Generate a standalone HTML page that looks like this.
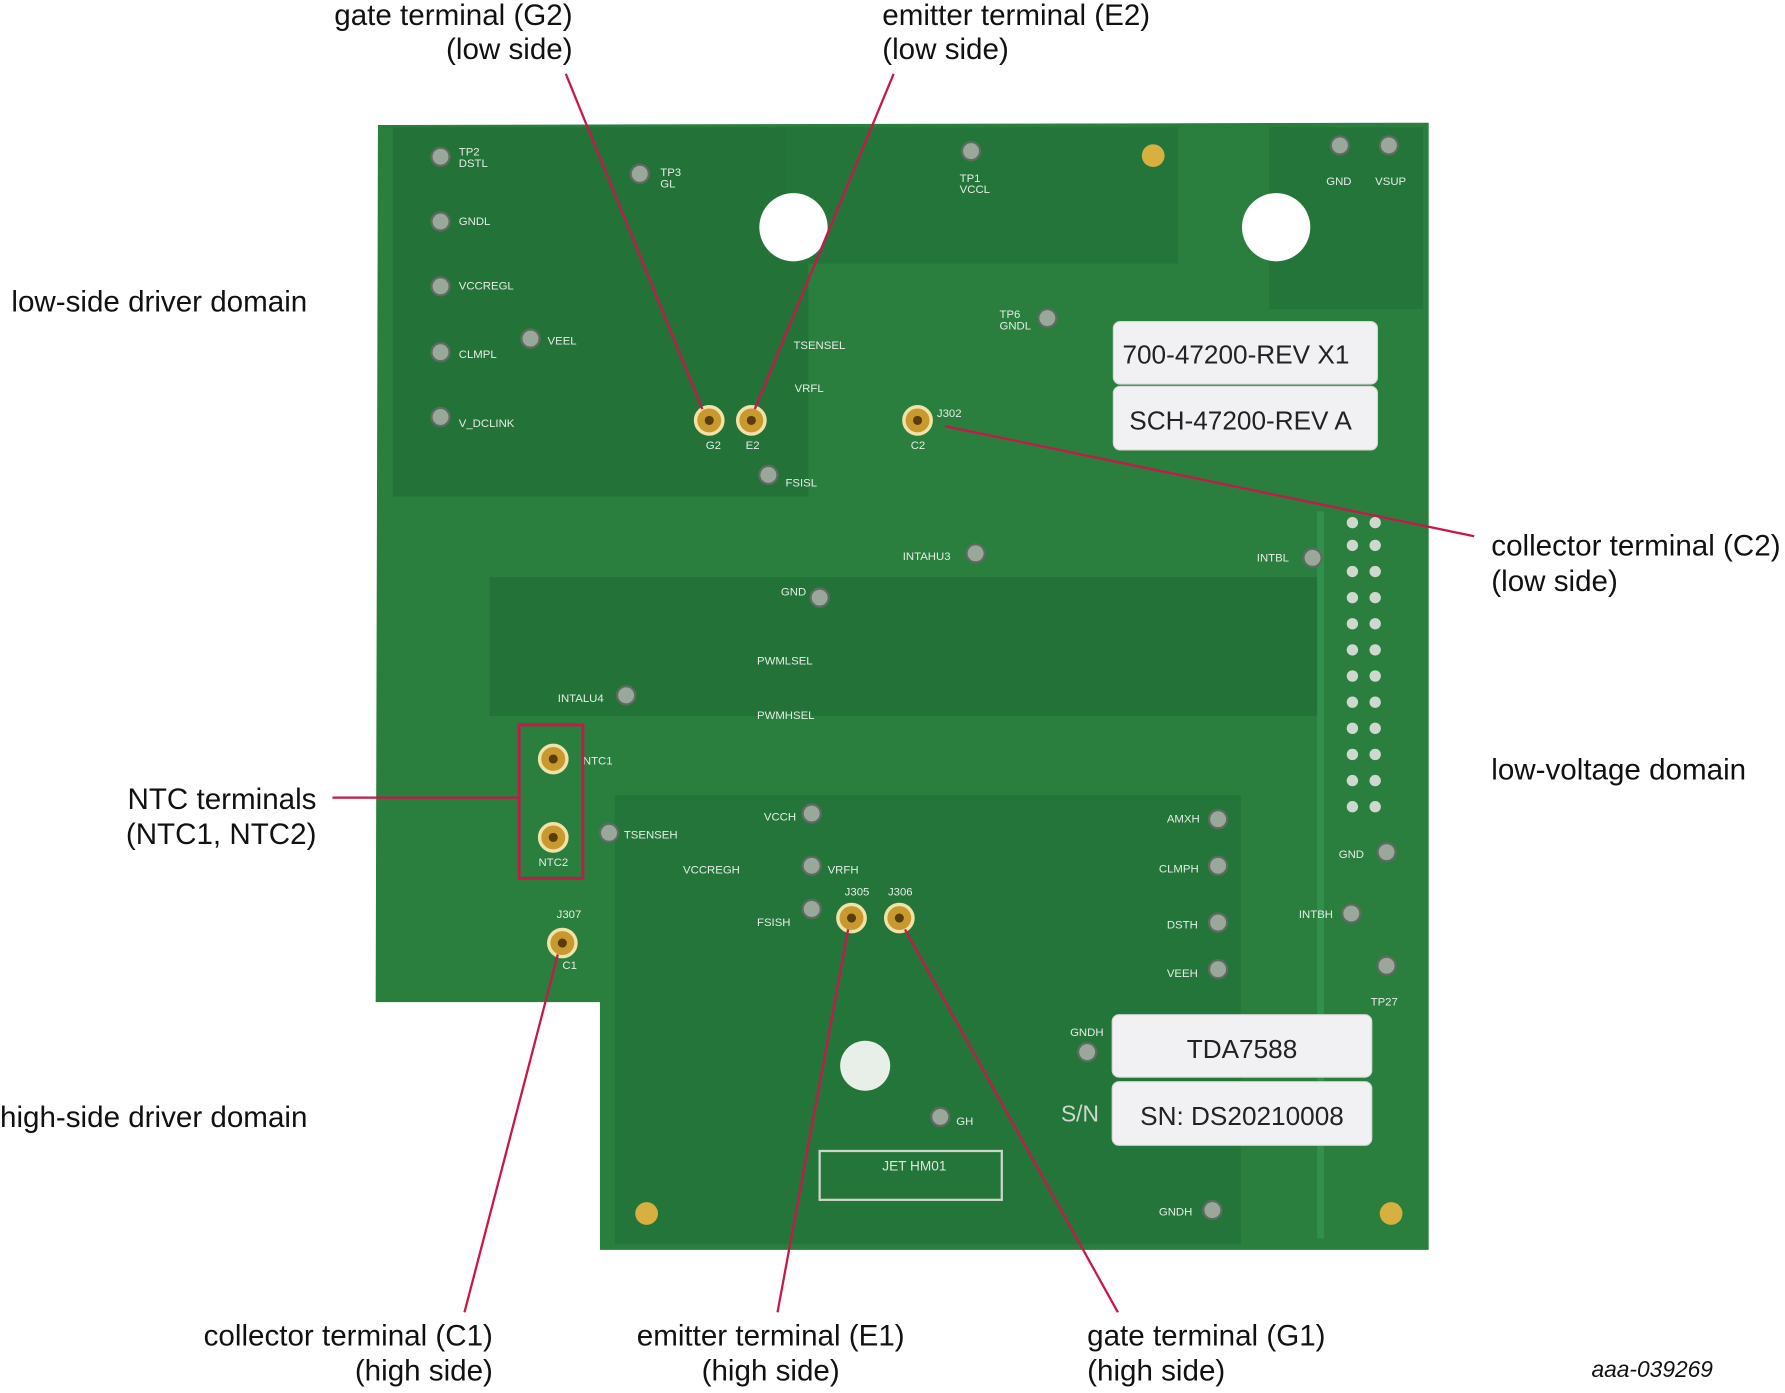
<!DOCTYPE html>
<html><head><meta charset="utf-8"><style>
html,body{margin:0;padding:0;background:#fff;}
svg{display:block;}
text{font-family:"Liberation Sans",sans-serif;}
</style></head><body>
<svg width="1785" height="1393" viewBox="0 0 1568 1226" preserveAspectRatio="none" xmlns="http://www.w3.org/2000/svg">
<rect width="1568" height="1226" fill="#fff"/>
<path d="M332,110 L1255,108 L1255,1100 L527,1100 L527,882 L330,882 Z" fill="#2a7e3e"/>
<rect x="345" y="112" width="365" height="325" fill="#237238"/>
<rect x="430" y="508" width="730" height="122" fill="#237238"/>
<rect x="540" y="700" width="550" height="395" fill="#24753a"/>
<rect x="1115" y="112" width="135" height="160" fill="#24753a"/>
<rect x="690" y="112" width="345" height="120" fill="#24753a"/>
<path d="M1160,450 L1160,1090" stroke="#31904b" stroke-width="6" fill="none"/>
<circle cx="697" cy="200" r="30" fill="#fff"/>
<circle cx="1121" cy="200" r="30" fill="#fff"/>
<circle cx="760" cy="938" r="22" fill="#e8efe8"/>
<circle cx="1013" cy="137" r="10" fill="#d7b040"/>
<circle cx="568" cy="1068" r="10" fill="#d7b040"/>
<circle cx="1222" cy="1068" r="10" fill="#d7b040"/>
<g fill="#9aa89c" stroke="#5d6b60" stroke-width="2">
<circle cx="387" cy="138" r="8"/><circle cx="387" cy="195" r="8"/><circle cx="387" cy="252" r="8"/><circle cx="387" cy="310" r="8"/><circle cx="387" cy="367" r="8"/>
<circle cx="562" cy="153" r="8"/><circle cx="466" cy="298" r="8"/><circle cx="853" cy="133" r="8"/><circle cx="920" cy="280" r="8"/>
<circle cx="1177" cy="128" r="8"/><circle cx="1220" cy="128" r="8"/><circle cx="675" cy="418" r="8"/><circle cx="720" cy="526" r="8"/>
<circle cx="857" cy="487" r="8"/><circle cx="1153" cy="491" r="8"/><circle cx="550" cy="612" r="8"/><circle cx="713" cy="716" r="8"/>
<circle cx="535" cy="733" r="8"/><circle cx="713" cy="762" r="8"/><circle cx="713" cy="800" r="8"/><circle cx="1070" cy="721" r="8"/>
<circle cx="1070" cy="762" r="8"/><circle cx="1070" cy="812" r="8"/><circle cx="1070" cy="853" r="8"/><circle cx="1218" cy="750" r="8"/>
<circle cx="1187" cy="804" r="8"/><circle cx="1218" cy="850" r="8"/><circle cx="955" cy="926" r="8"/><circle cx="826" cy="983" r="8"/><circle cx="1065" cy="1065" r="8"/>
</g>
<g fill="#cfd8cf">
<circle cx="1188" cy="460" r="5"/><circle cx="1208" cy="460" r="5"/><circle cx="1188" cy="480" r="5"/><circle cx="1208" cy="480" r="5"/>
<circle cx="1188" cy="503" r="5"/><circle cx="1208" cy="503" r="5"/><circle cx="1188" cy="526" r="5"/><circle cx="1208" cy="526" r="5"/>
<circle cx="1188" cy="549" r="5"/><circle cx="1208" cy="549" r="5"/><circle cx="1188" cy="572" r="5"/><circle cx="1208" cy="572" r="5"/>
<circle cx="1188" cy="595" r="5"/><circle cx="1208" cy="595" r="5"/><circle cx="1188" cy="618" r="5"/><circle cx="1208" cy="618" r="5"/>
<circle cx="1188" cy="641" r="5"/><circle cx="1208" cy="641" r="5"/><circle cx="1188" cy="664" r="5"/><circle cx="1208" cy="664" r="5"/>
<circle cx="1188" cy="687" r="5"/><circle cx="1208" cy="687" r="5"/><circle cx="1188" cy="710" r="5"/><circle cx="1208" cy="710" r="5"/>
</g>
<g fill="#c89a2e" stroke="#f1e2a8" stroke-width="3">
<circle cx="623" cy="370" r="12"/><circle cx="660" cy="370" r="12"/><circle cx="806" cy="370" r="12"/>
<circle cx="486" cy="668" r="12"/><circle cx="486" cy="737" r="12"/><circle cx="748" cy="808" r="12"/><circle cx="790" cy="808" r="12"/><circle cx="494" cy="830" r="12"/>
</g>
<g fill="#5a3c0a"><circle cx="623" cy="370" r="4"/><circle cx="660" cy="370" r="4"/><circle cx="806" cy="370" r="4"/><circle cx="486" cy="668" r="4"/><circle cx="486" cy="737" r="4"/><circle cx="748" cy="808" r="4"/><circle cx="790" cy="808" r="4"/><circle cx="494" cy="830" r="4"/></g>
<g fill="#e6ece6" font-size="10">
<text x="403" y="137">TP2</text><text x="403" y="147">DSTL</text><text x="580" y="155">TP3</text><text x="580" y="165">GL</text>
<text x="403" y="198">GNDL</text><text x="403" y="255">VCCREGL</text><text x="481" y="303">VEEL</text>
<text x="843" y="160">TP1</text><text x="843" y="170">VCCL</text><text x="1165" y="163">GND</text><text x="1208" y="163">VSUP</text>
<text x="878" y="280">TP6</text><text x="878" y="290">GNDL</text><text x="697" y="307">TSENSEL</text><text x="698" y="345">VRFL</text>
<text x="403" y="315">CLMPL</text><text x="403" y="376">V_DCLINK</text><text x="690" y="428">FSISL</text><text x="620" y="395">G2</text><text x="655" y="395">E2</text><text x="800" y="395">C2</text>
<text x="823" y="367">J302</text><text x="793" y="493">INTAHU3</text><text x="1104" y="494">INTBL</text><text x="686" y="524">GND</text><text x="490" y="618">INTALU4</text>
<text x="665" y="585">PWMLSEL</text><text x="665" y="633">PWMHSEL</text><text x="671" y="722">VCCH</text><text x="548" y="738">TSENSEH</text><text x="600" y="769">VCCREGH</text>
<text x="727" y="769">VRFH</text><text x="665" y="815">FSISH</text><text x="1025" y="724">AMXH</text><text x="1018" y="768">CLMPH</text><text x="1025" y="817">DSTH</text><text x="1025" y="860">VEEH</text>
<text x="1176" y="755">GND</text><text x="1141" y="808">INTBH</text><text x="1204" y="885">TP27</text><text x="940" y="912">GNDH</text><text x="840" y="990">GH</text><text x="1018" y="1070">GNDH</text>
<text x="512" y="673">NTC1</text><text x="473" y="762">NTC2</text><text x="489" y="808">J307</text><text x="494" y="853">C1</text><text x="742" y="788">J305</text><text x="780" y="788">J306</text>
</g>
<text x="932" y="987" fill="#cfd8cf" font-size="20">S/N</text>
<rect x="720" y="1013" width="160" height="43" fill="none" stroke="#c9d6c9" stroke-width="2"/>
<text x="775" y="1030" fill="#dfe6df" font-size="12">JET HM01</text>
<g fill="#f1f0f2" stroke="#d8d8d8">
<rect x="978" y="283" width="232" height="55" rx="6"/><rect x="978" y="340" width="232" height="56" rx="6"/>
<rect x="977" y="893" width="228" height="55" rx="6"/><rect x="977" y="952" width="228" height="56" rx="6"/>
</g>
<g fill="#222" font-size="23" font-family="Liberation Mono,monospace">
<text x="986" y="320">700-47200-REV X1</text><text x="992" y="378">SCH-47200-REV A</text>
<text x="1091" y="931" text-anchor="middle">TDA7588</text><text x="1091" y="990" text-anchor="middle">SN: DS20210008</text>
</g>
<rect x="456" y="638" width="56" height="135" fill="none" stroke="#c8174a" stroke-width="2.5"/>
<g stroke="#c8174a" stroke-width="2" fill="none">
<line x1="497" y1="65" x2="617" y2="360"/>
<line x1="785" y1="65" x2="663" y2="360"/>
<line x1="830" y1="375" x2="1295" y2="472"/>
<line x1="292" y1="702" x2="455" y2="702"/>
<line x1="408" y1="1155" x2="490" y2="840"/>
<line x1="683" y1="1155" x2="745" y2="818"/>
<line x1="982" y1="1155" x2="795" y2="818"/>
</g>
<g fill="#111" font-size="26">
<text x="503" y="22" text-anchor="end">gate terminal (G2)</text><text x="503" y="52" text-anchor="end">(low side)</text>
<text x="775" y="22">emitter terminal (E2)</text><text x="775" y="52">(low side)</text>
<text x="10" y="274">low-side driver domain</text>
<text x="1310" y="489">collector terminal (C2)</text><text x="1310" y="520">(low side)</text>
<text x="1310" y="686">low-voltage domain</text>
<text x="278" y="712" text-anchor="end">NTC terminals</text><text x="278" y="743" text-anchor="end">(NTC1, NTC2)</text>
<text x="0" y="992">high-side driver domain</text>
<text x="433" y="1184" text-anchor="end">collector terminal (C1)</text><text x="433" y="1215" text-anchor="end">(high side)</text>
<text x="677" y="1184" text-anchor="middle">emitter terminal (E1)</text><text x="677" y="1215" text-anchor="middle">(high side)</text>
<text x="955" y="1184">gate terminal (G1)</text><text x="955" y="1215">(high side)</text>
</g>
<text x="1398" y="1212" font-size="20" font-style="italic" fill="#111">aaa-039269</text>
</svg>
</body></html>
